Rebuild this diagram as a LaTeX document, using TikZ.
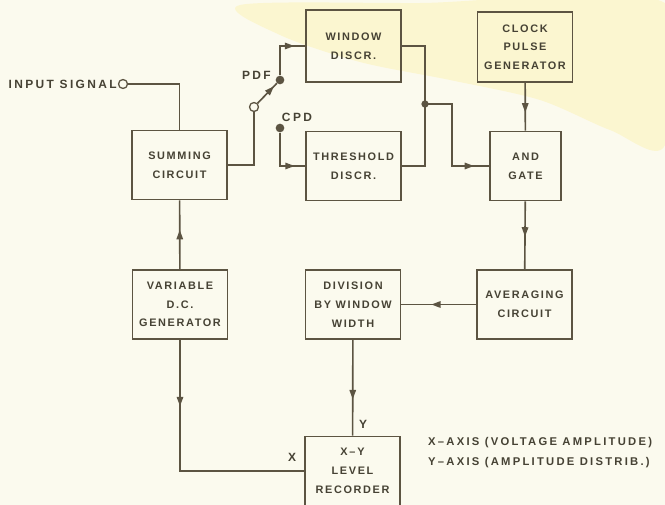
\documentclass[tikz,border=0pt]{standalone}
\usepackage{fontspec}
\setmainfont{Liberation Sans}[LetterSpace=15]
\newfontfamily\lblfont{Liberation Sans}[LetterSpace=20]
\usetikzlibrary{arrows.meta,decorations.markings}

\definecolor{paper}{RGB}{251,250,238}
\definecolor{smudge}{RGB}{251,246,208}
\definecolor{ink}{RGB}{92,84,66}
\definecolor{lettering}{RGB}{70,66,52}

\tikzset{
  block/.style={draw=ink, line width=1.4pt, minimum width=2.85cm, minimum height=2.07cm,
    align=center, text=lettering, font=\fontsize{9.3}{16}\selectfont\bfseries, inner sep=0pt},
  lbl/.style={text=lettering, font=\lblfont\fontsize{10.2}{16}\selectfont\bfseries, inner sep=0pt},
  axislbl/.style={lbl, font=\lblfont\fontsize{9.6}{16}\selectfont\bfseries},
  wire/.style={draw=ink, line width=1.4pt},
  arr/.style={postaction={decorate}, decoration={markings,
    mark=at position #1 with {\arrow[ink]{Triangle[length=8pt,width=5.5pt]}}}},
  dot/.style={circle, fill=ink, inner sep=0pt, minimum size=0.26cm},
  opendot/.style={circle, draw=ink, line width=1.1pt, fill=paper, inner sep=0pt, minimum size=0.27cm}
}

\begin{document}
\begin{tikzpicture}[x=0.03cm, y=-0.03cm]
  \useasboundingbox (0,0) rectangle (665,505);
  \fill[paper] (0,0) rectangle (665,505);
  \begin{scope}
    \clip (0,0) rectangle (665,505);
    \fill[smudge] plot[smooth cycle] coordinates {(240,5) (420,3) (665,3) (665,145) (610,130) (540,100) (450,80) (360,62) (280,35)};
  \end{scope}

  % blocks
  \node[block] (sum) at (179.5,165) {SUMMING\\CIRCUIT};
  \node[block, minimum height=2.16cm] (win) at (353.5,46) {WINDOW\\DISCR.};
  \node[block] (thr) at (353.5,166) {THRESHOLD\\DISCR.};
  \node[block, minimum height=2.1cm] (clk) at (525,47) {CLOCK\\PULSE\\GENERATOR};
  \node[block, minimum width=2.13cm] (and) at (525.5,166) {AND\\GATE};
  \node[block] (avg) at (524.5,304.5) {AVERAGING\\CIRCUIT};
  \node[block] (div) at (353,304.5) {DIVISION\\BY WINDOW\\WIDTH};
  \node[block] (vdc) at (180,304.5) {VARIABLE\\D.C.\\GENERATOR};
  \node[block] (rec) at (352.5,471) {X\,\textendash\,Y\\LEVEL\\RECORDER};

  % terminals and switch
  \node[opendot] (in) at (123,84) {};
  \node[opendot] (sw) at (254,107) {};
  \node[dot] (pdf) at (280,80) {};
  \node[dot] (cpd) at (280,128) {};
  \coordinate (j) at (425,104);
  \node[dot, minimum size=0.22cm] (jdot) at (j) {};

  % labels
  \node[lbl, anchor=east] (inlbl) at (117,84) {INPUT SIGNAL};
  \node[lbl, anchor=east] (pdflbl) at (271,75) {PDF};
  \node[lbl] (cpdlbl) at (297,117) {CPD};
  \node[lbl] (ylbl) at (363,424) {Y};
  \node[lbl] (xlbl) at (292,457) {X};
  \node[axislbl, anchor=west] (xaxis) at (428,443) {X\textendash AXIS (VOLTAGE AMPLITUDE)};
  \node[axislbl, anchor=west] (yaxis) at (428,463) {Y\textendash AXIS (AMPLITUDE DISTRIB.)};

  % connections
  \draw[wire] (in) -| (sum.north);
  \draw[wire] (sum.east) -| (sw.south);
  \draw[wire, arr=0.85] (sw) -- (pdf);
  \draw[wire, arr=0.8] (pdf) |- (win.west);
  \draw[wire, arr=0.82] (cpd) |- (thr.west);
  \draw[wire] (win.east) -| (j) |- (thr.east);
  \draw[wire, arr=0.88] (j) -- ++(27,0) |- (and.west);
  \draw[wire, arr=0.62] (clk) -- (and);
  \draw[wire, arr=0.52] (and) -- (avg);
  \draw[wire, arr=0.6] (avg) -- (div);
  \draw[wire, arr=0.62] (div) -- (rec);
  \draw[wire, arr=0.57] (vdc) -- (sum);
  \draw[wire, arr=0.26] (vdc.south) |- (rec.west);
\end{tikzpicture}
\end{document}
